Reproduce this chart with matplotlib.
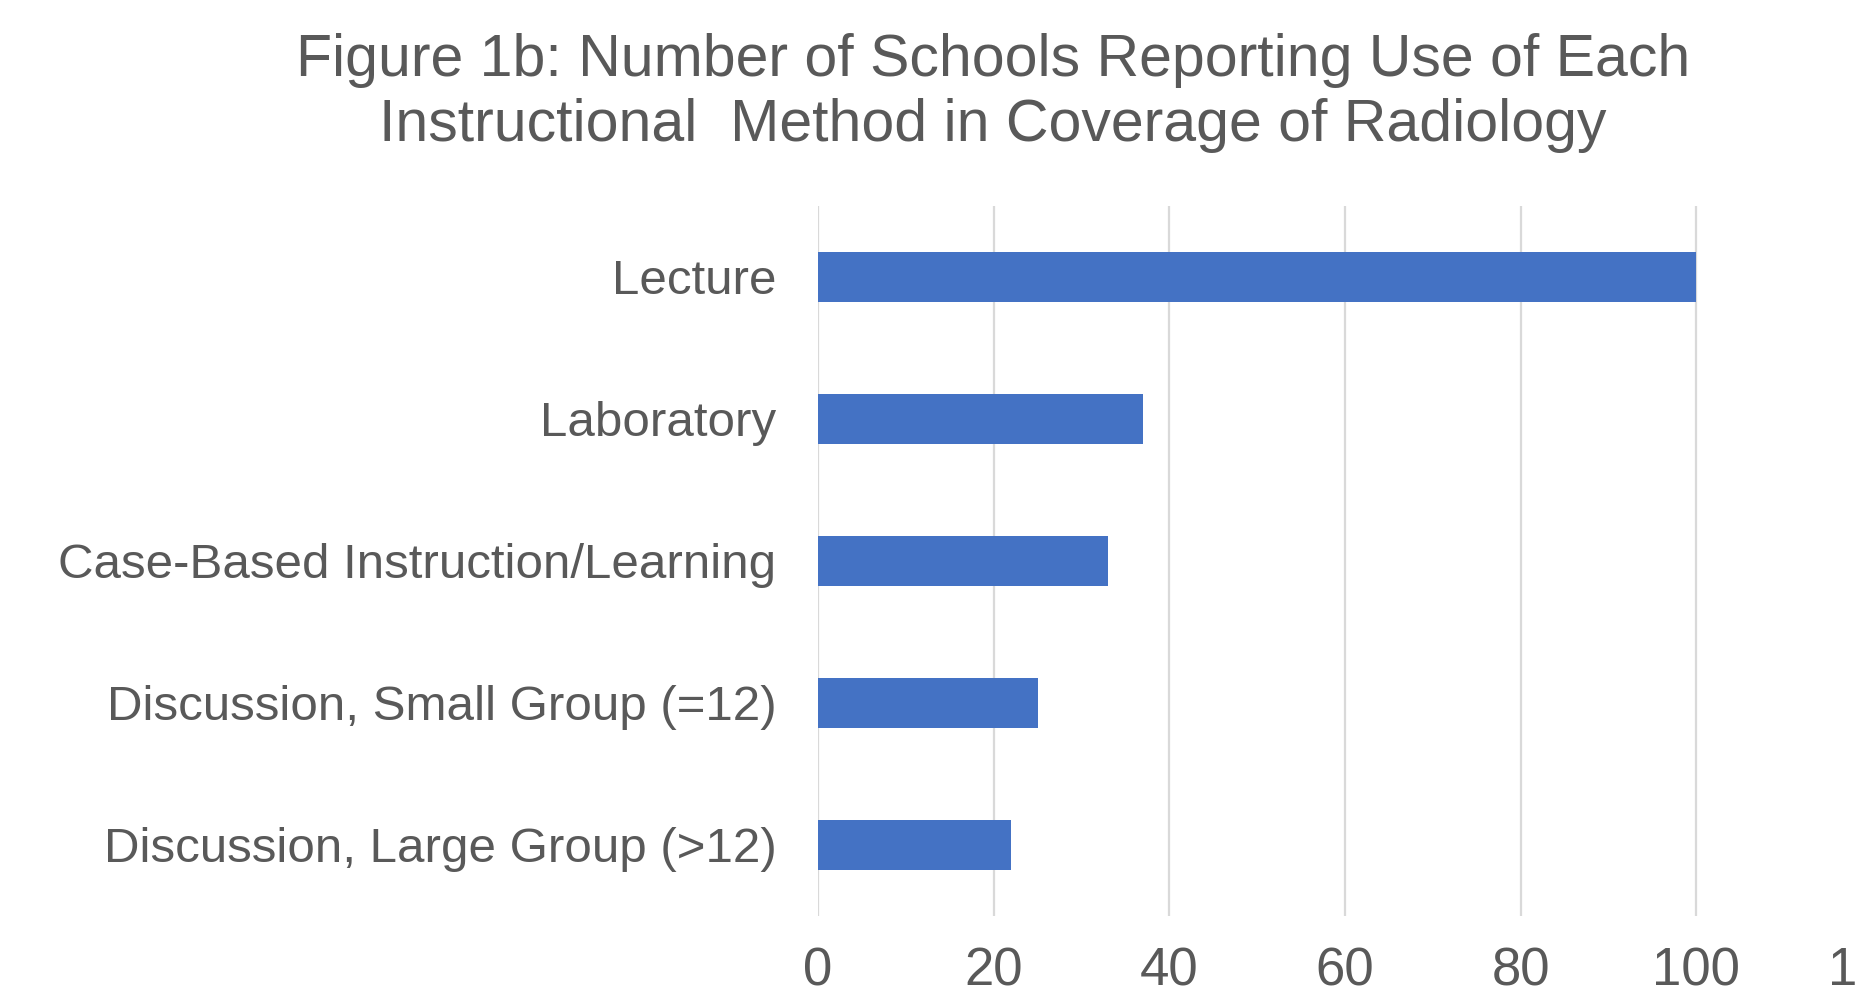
import matplotlib
matplotlib.use('Agg')
import matplotlib.pyplot as plt
import numpy as np

plt.rcParams['font.family'] = ['Liberation Sans', 'DejaVu Sans']

methods = ['Lecture',
           'Laboratory',
           'Case-Based Instruction/Learning',
           'Discussion, Small Group (=12)',
           'Discussion, Large Group (>12)']
schools = [100, 37, 33, 25, 22]
x_ticks = [0, 20, 40, 60, 80, 100, 120]

title = ('Figure 1b: Number of Schools Reporting Use of Each\n'
         'Instructional  Method in Coverage of Radiology')

TEXT_GRAY = '#595959'
BAR_BLUE  = '#4472C4'
GRID_GRAY = '#D9D9D9'

fig = plt.figure(figsize=(18.59, 9.89), dpi=100)
ax  = fig.add_axes([0.44, 0.074, 0.567, 0.718])

ypos = np.arange(len(methods))[::-1]
ax.barh(ypos, schools, height=0.355, color=BAR_BLUE, zorder=3)

ax.set_xlim(0, 120)
ax.set_ylim(-0.5, len(methods) - 0.5)
ax.set_xticks(x_ticks)
ax.set_yticks(ypos)
ax.set_yticklabels(methods)
ax.xaxis.grid(True, color=GRID_GRAY, linewidth=1.6, zorder=0)
for side in ['top', 'right', 'bottom', 'left']:
    ax.spines[side].set_visible(False)
ax.tick_params(axis='both', length=0, colors=TEXT_GRAY)
ax.tick_params(axis='y', pad=30, labelsize=35.5)
ax.tick_params(axis='x', pad=22, labelsize=38)

fig.text(0.534, 0.967, title, ha='center', va='top', fontsize=42.5,
         color=TEXT_GRAY, linespacing=1.23)

plt.savefig('out.png', dpi=100)
